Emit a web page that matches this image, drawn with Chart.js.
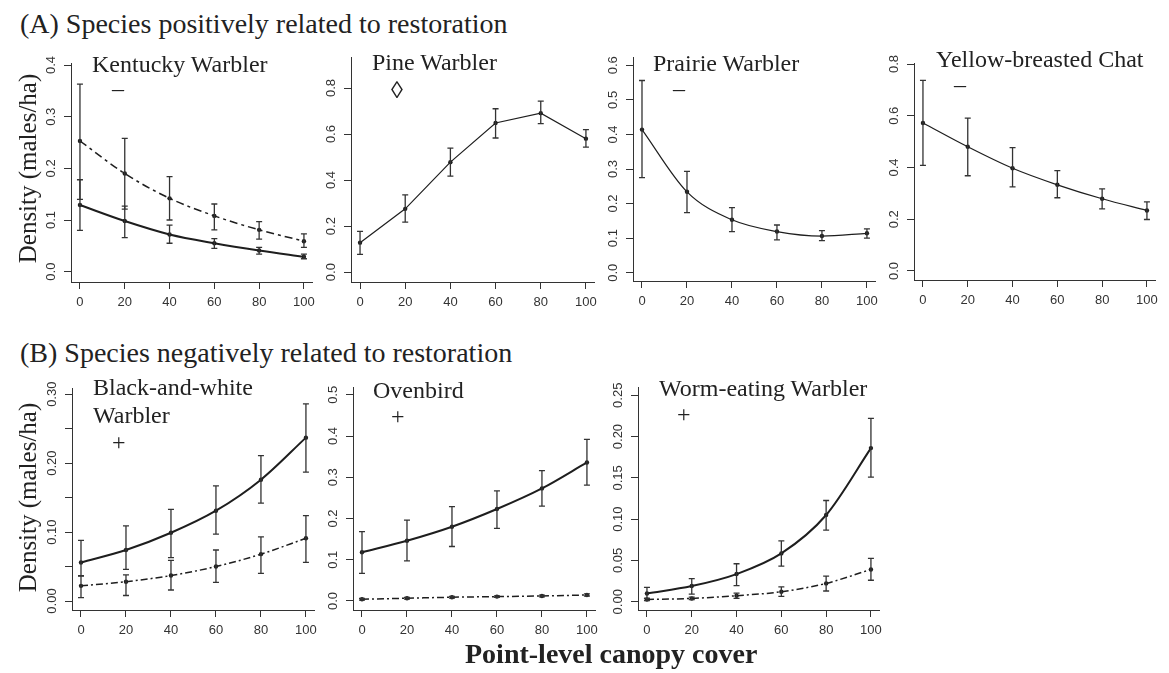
<!DOCTYPE html>
<html>
<head>
<meta charset="utf-8">
<script src="https://cdn.jsdelivr.net/npm/chart.js@4.4.1/dist/chart.umd.min.js"></script>
<style>
  html, body { margin:0; padding:0; background:#fff; }
  #root { position:relative; width:1169px; height:673px; overflow:hidden; background:#fff; }
  canvas { position:absolute; }
  .t { position:absolute; white-space:nowrap; color:#222; font-family:"Liberation Serif", "Times New Roman", serif; line-height:1; }
</style>
</head>
<body>
<div id="root"></div>
<script>
// ---------------- DATA ----------------
const canopyCover = [0, 20, 40, 60, 80, 100];
const xTickValues = [0, 20, 40, 60, 80, 100];

// Kentucky Warbler
const kentuckySolid   = [0.129, 0.098, 0.072, 0.055, 0.041, 0.029];
const kentuckySolidLo = [0.080, 0.066, 0.055, 0.045, 0.034, 0.025];
const kentuckySolidHi = [0.178, 0.127, 0.090, 0.064, 0.047, 0.034];
const kentuckyDash    = [0.253, 0.190, 0.142, 0.108, 0.081, 0.059];
const kentuckyDashLo  = [0.140, 0.121, 0.100, 0.081, 0.063, 0.047];
const kentuckyDashHi  = [0.363, 0.258, 0.184, 0.131, 0.097, 0.073];
const kentuckyYTicks  = [0, 0.1, 0.2, 0.3, 0.4];
const kentuckyYLabels = ['0.0', '0.1', '0.2', '0.3', '0.4'];

// Pine Warbler
const pine    = [0.128, 0.275, 0.478, 0.648, 0.691, 0.580];
const pineLo  = [0.077, 0.217, 0.417, 0.583, 0.645, 0.543];
const pineHi  = [0.177, 0.336, 0.539, 0.710, 0.743, 0.619];
const pineYTicks  = [0, 0.2, 0.4, 0.6, 0.8];
const pineYLabels = ['0.0', '0.2', '0.4', '0.6', '0.8'];

// Prairie Warbler
const prairie   = [0.414, 0.234, 0.153, 0.119, 0.106, 0.114];
const prairieLo = [0.275, 0.174, 0.119, 0.095, 0.093, 0.100];
const prairieHi = [0.556, 0.293, 0.188, 0.138, 0.122, 0.127];
const prairieYTicks  = [0, 0.1, 0.2, 0.3, 0.4, 0.5, 0.6];
const prairieYLabels = ['0.0', '0.1', '0.2', '0.3', '0.4', '0.5', '0.6'];

// Yellow-breasted Chat
const chat   = [0.572, 0.480, 0.397, 0.333, 0.279, 0.234];
const chatLo = [0.408, 0.368, 0.325, 0.283, 0.240, 0.199];
const chatHi = [0.737, 0.591, 0.477, 0.388, 0.317, 0.267];
const chatYTicks  = [0, 0.2, 0.4, 0.6, 0.8];
const chatYLabels = ['0.0', '0.2', '0.4', '0.6', '0.8'];

// Black-and-white Warbler
const bawSolid   = [0.056, 0.074, 0.099, 0.131, 0.176, 0.237];
const bawSolidLo = [0.036, 0.046, 0.063, 0.097, 0.142, 0.187];
const bawSolidHi = [0.088, 0.109, 0.133, 0.167, 0.211, 0.286];
const bawDash    = [0.022, 0.028, 0.037, 0.050, 0.068, 0.091];
const bawDashLo  = [0.005, 0.008, 0.016, 0.027, 0.040, 0.056];
const bawDashHi  = [0.037, 0.038, 0.059, 0.074, 0.093, 0.124];
const bawYTicks  = [0, 0.05, 0.10, 0.15, 0.20, 0.25, 0.30];
const bawYLabels = ['0.00', '', '0.10', '', '0.20', '', '0.30'];

// Ovenbird
const ovenSolid   = [0.118, 0.146, 0.180, 0.223, 0.273, 0.336];
const ovenSolidLo = [0.067, 0.097, 0.132, 0.176, 0.230, 0.281];
const ovenSolidHi = [0.168, 0.196, 0.229, 0.267, 0.316, 0.392];
const ovenDash    = [0.004, 0.0065, 0.009, 0.0105, 0.012, 0.0145];
const ovenDashLo  = [0.002, 0.0045, 0.007, 0.0085, 0.010, 0.012];
const ovenDashHi  = [0.006, 0.0085, 0.011, 0.0125, 0.014, 0.017];
const ovenYTicks  = [0, 0.1, 0.2, 0.3, 0.4, 0.5];
const ovenYLabels = ['0.0', '0.1', '0.2', '0.3', '0.4', '0.5'];

// Worm-eating Warbler
const wormSolid   = [0.010, 0.019, 0.0335, 0.0585, 0.105, 0.186];
const wormSolidLo = [0.004, 0.0093, 0.0194, 0.0431, 0.0867, 0.151];
const wormSolidHi = [0.0173, 0.028, 0.046, 0.0738, 0.1226, 0.222];
const wormDash    = [0.0028, 0.004, 0.0073, 0.0121, 0.0222, 0.0391];
const wormDashLo  = [0.0015, 0.0025, 0.004, 0.0065, 0.013, 0.026];
const wormDashHi  = [0.004, 0.0055, 0.0105, 0.018, 0.031, 0.0524];
const wormYTicks  = [0, 0.05, 0.10, 0.15, 0.20, 0.25];
const wormYLabels = ['0.00', '0.05', '0.10', '0.15', '0.20', '0.25'];

// ---------------- STYLES / LAYOUT ----------------
const INK = '#1e1e1e';
const AXIS = '#333';
const SOLID_THICK = { borderWidth: 2.0, borderDash: [] };
const SOLID_THIN  = { borderWidth: 1.2, borderDash: [] };
const DASHED_K    = { borderWidth: 1.5, borderDash: [8, 4, 3, 4] };
const DASHED_DD   = { borderWidth: 1.5, borderDash: [7, 3, 2, 3] };

function series(vals, lo, hi, style, smooth) {
  return {
    data: canopyCover.map((x, i) => ({ x: x, y: vals[i] })),
    errLo: lo, errHi: hi,
    borderColor: INK, backgroundColor: INK,
    borderWidth: style.borderWidth, borderDash: style.borderDash,
    pointRadius: 2.2, pointBackgroundColor: INK, pointBorderWidth: 0,
    cubicInterpolationMode: smooth ? 'monotone' : 'default',
    tension: 0, fill: false
  };
}

const panels = [
  { L: 71,  T: 63,  R: 315,  B: 282, yMin: -0.02,  yMax: 0.404, ticks: kentuckyYTicks, labels: kentuckyYLabels,
    ds: [series(kentuckySolid, kentuckySolidLo, kentuckySolidHi, SOLID_THICK, true),
         series(kentuckyDash, kentuckyDashLo, kentuckyDashHi, DASHED_K, true)] },
  { L: 351, T: 57,  R: 597,  B: 282, yMin: -0.043, yMax: 0.935, ticks: pineYTicks, labels: pineYLabels,
    ds: [series(pine, pineLo, pineHi, SOLID_THIN, false)] },
  { L: 633, T: 57,  R: 878,  B: 281, yMin: -0.024, yMax: 0.624, ticks: prairieYTicks, labels: prairieYLabels,
    ds: [series(prairie, prairieLo, prairieHi, SOLID_THIN, true)] },
  { L: 914, T: 63,  R: 1158, B: 280, yMin: -0.035, yMax: 0.804, ticks: chatYTicks, labels: chatYLabels,
    ds: [series(chat, chatLo, chatHi, SOLID_THIN, true)] },
  { L: 72,  T: 388, R: 317,  B: 610, yMin: -0.013, yMax: 0.309, ticks: bawYTicks, labels: bawYLabels,
    ds: [series(bawSolid, bawSolidLo, bawSolidHi, SOLID_THICK, true),
         series(bawDash, bawDashLo, bawDashHi, DASHED_DD, true)] },
  { L: 353, T: 387, R: 598,  B: 610, yMin: -0.022, yMax: 0.519, ticks: ovenYTicks, labels: ovenYLabels,
    ds: [series(ovenSolid, ovenSolidLo, ovenSolidHi, SOLID_THICK, true),
         series(ovenDash, ovenDashLo, ovenDashHi, DASHED_DD, true)] },
  { L: 638, T: 387, R: 882,  B: 610, yMin: -0.010, yMax: 0.260, ticks: wormYTicks, labels: wormYLabels,
    ds: [series(wormSolid, wormSolidLo, wormSolidHi, SOLID_THICK, true),
         series(wormDash, wormDashLo, wormDashHi, DASHED_DD, true)] }
];

// ---------------- PLUGINS ----------------
const errorBarPlugin = {
  id: 'errorBars',
  afterDatasetsDraw(chart) {
    const xs = chart.scales.x, ys = chart.scales.y, ctx = chart.ctx;
    chart.data.datasets.forEach(ds => {
      if (!ds.errLo) return;
      ctx.save();
      ctx.strokeStyle = AXIS; ctx.lineWidth = 1.3; ctx.setLineDash([]);
      ds.data.forEach((p, i) => {
        const px = xs.getPixelForValue(p.x);
        const a = ys.getPixelForValue(ds.errLo[i]);
        const b = ys.getPixelForValue(ds.errHi[i]);
        ctx.beginPath();
        ctx.moveTo(px, a); ctx.lineTo(px, b);
        ctx.moveTo(px - 3, a); ctx.lineTo(px + 3, a);
        ctx.moveTo(px - 3, b); ctx.lineTo(px + 3, b);
        ctx.stroke();
      });
      ctx.restore();
    });
  }
};

const yLabelPlugin = {
  id: 'yRotLabels',
  afterDraw(chart, args, opts) {
    const ys = chart.scales.y, ctx = chart.ctx;
    ctx.save();
    ctx.font = '13px "Liberation Sans", Arial, sans-serif';
    ctx.fillStyle = AXIS; ctx.textAlign = 'center'; ctx.textBaseline = 'middle';
    ys.ticks.forEach((t, i) => {
      const lab = opts.labels[i];
      if (!lab) return;
      const py = ys.getPixelForValue(t.value);
      ctx.save();
      ctx.translate(ys.right - 20, py);
      ctx.rotate(-Math.PI / 2);
      ctx.fillText(lab, 0, 0);
      ctx.restore();
    });
    ctx.restore();
  }
};

// ---------------- BUILD ----------------
const root = document.getElementById('root');
const YW = 45, XH = 36, PT = 16, PR = 6;

panels.forEach(p => {
  const cv = document.createElement('canvas');
  const w = p.R - p.L + YW + PR, h = p.B - p.T + PT + XH;
  cv.width = w; cv.height = h;
  cv.style.left = (p.L - YW) + 'px'; cv.style.top = (p.T - PT) + 'px';
  cv.style.width = w + 'px'; cv.style.height = h + 'px';
  root.appendChild(cv);
  const tickValues = p.ticks;
  new Chart(cv, {
    type: 'line',
    data: { datasets: p.ds },
    plugins: [errorBarPlugin, yLabelPlugin],
    options: {
      responsive: false, animation: false, devicePixelRatio: 1,
      layout: { autoPadding: false, padding: { left: 0, top: PT, right: PR, bottom: 0 } },
      plugins: { legend: { display: false }, tooltip: { enabled: false }, yRotLabels: { labels: p.labels } },
      scales: {
        x: {
          type: 'linear', min: -4, max: 104,
          afterBuildTicks: s => { s.ticks = xTickValues.map(v => ({ value: v })); },
          afterFit: s => { s.height = XH; },
          ticks: { autoSkip: false, maxRotation: 0, minRotation: 0, padding: 6, color: AXIS,
                   font: { family: '"Liberation Sans", Arial, sans-serif', size: 13 },
                   callback: v => String(v) },
          grid: { drawOnChartArea: false, drawTicks: true, tickLength: 7, color: AXIS, lineWidth: 1 },
          border: { display: true, color: AXIS, width: 1 }
        },
        y: {
          type: 'linear', min: p.yMin, max: p.yMax,
          afterBuildTicks: s => { s.ticks = tickValues.map(v => ({ value: v })); },
          afterFit: s => { s.width = YW; },
          ticks: { display: false },
          grid: { drawOnChartArea: false, drawTicks: true, tickLength: 7, color: AXIS, lineWidth: 1 },
          border: { display: true, color: AXIS, width: 1 }
        }
      }
    }
  });
});

// ---------------- TEXT ----------------
function addText(txt, left, baseline, size, opts) {
  opts = opts || {};
  const d = document.createElement('div');
  d.className = 't';
  d.textContent = txt;
  d.style.fontSize = size + 'px';
  if (opts.bold) d.style.fontWeight = 'bold';
  d.style.left = left + 'px';
  d.style.top = (baseline - 0.8375 * size) + 'px';
  root.appendChild(d);
  return d;
}
function addRotText(txt, cx, cy, size) {
  const d = document.createElement('div');
  d.className = 't';
  d.textContent = txt;
  d.style.fontSize = size + 'px';
  d.style.width = '300px';
  d.style.textAlign = 'center';
  d.style.height = size + 'px';
  d.style.left = (cx - 150) + 'px';
  d.style.top = (cy - size / 2) + 'px';
  d.style.transform = 'rotate(-90deg)';
  d.style.transformOrigin = '50% 50%';
  root.appendChild(d);
}

addText('(A) Species positively related to restoration', 20, 33, 28);
addText('(B) Species negatively related to restoration', 20, 362, 28);

addText('Kentucky Warbler', 92, 72, 24);
addText('Pine Warbler', 372, 70, 24);
addText('Prairie Warbler', 653, 71, 24);
addText('Yellow-breasted Chat', 936, 67, 24);
addText('Black-and-white', 93, 395, 24);
addText('Warbler', 93, 423, 24);
addText('Ovenbird', 373, 398, 24);
addText('Worm-eating Warbler', 659, 396, 24);

// restoration-effect symbols
addText('\u2013', 112, 96, 24);
addText('\u25CA', 391, 98, 24);
addText('\u2013', 673, 96, 24);
addText('\u2013', 954, 92, 24);
addText('+', 112, 450, 24);
addText('+', 391, 424, 24);
addText('+', 677, 422, 24);

addRotText('Density (males/ha)', 27, 168, 25);
addRotText('Density (males/ha)', 27, 497, 25);

addText('Point-level canopy cover', 465, 663, 28, { bold: true });
</script>
</body>
</html>
